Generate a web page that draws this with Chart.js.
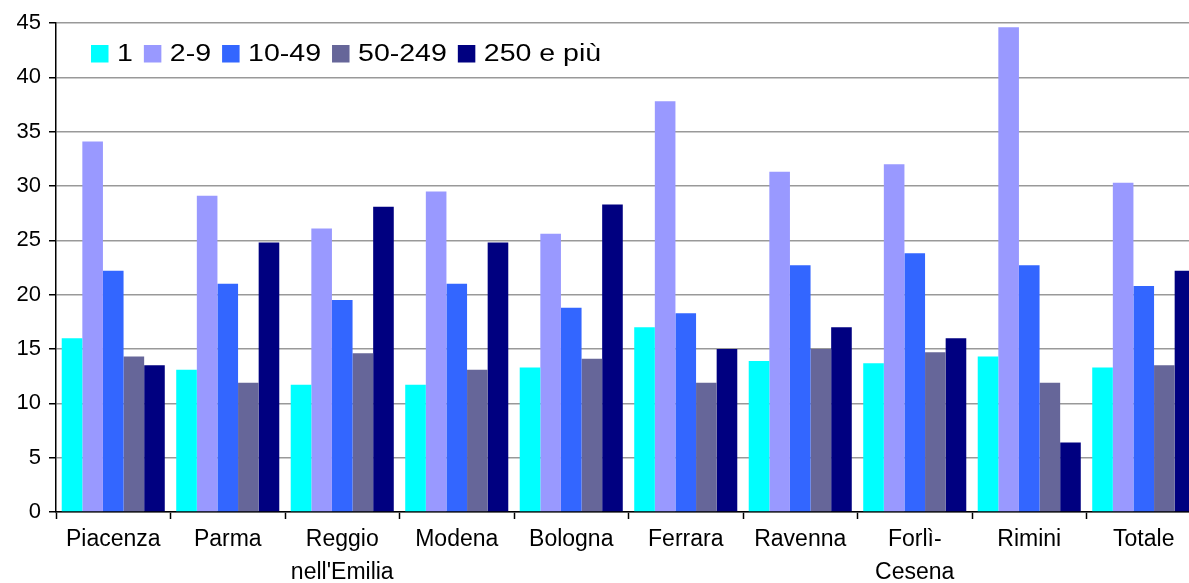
<!DOCTYPE html>
<html>
<head>
<meta charset="utf-8">
<script src="https://cdn.jsdelivr.net/npm/chart.js@4"></script>
<style>
    body { margin: 0; overflow: hidden; background: #fff; }
    #wrap { width: 1215px; height: 600px; }
</style>
</head>
<body>
<div id="wrap"><canvas id="chart" width="1215" height="600"></canvas></div>
<script>
const province = ['Piacenza', 'Parma', ['Reggio', "nell'Emilia"], 'Modena', 'Bologna', 'Ferrara', 'Ravenna', ['Forlì-', 'Cesena'], 'Rimini', 'Totale'];
const classi = ['1', '2-9', '10-49', '50-249', '250 e più'];
const colori = ['#00FFFF', '#9999FF', '#3366FF', '#666699', '#000080'];

const addetti1 = [16.0, 13.1, 11.7, 11.7, 13.3, 17.0, 13.9, 13.7, 14.3, 13.3];
const addetti2_9 = [34.1, 29.1, 26.1, 29.5, 25.6, 37.8, 31.3, 32.0, 44.6, 30.3];
const addetti10_49 = [22.2, 21.0, 19.5, 21.0, 18.8, 18.3, 22.7, 23.8, 22.7, 20.8];
const addetti50_249 = [14.3, 11.9, 14.6, 13.1, 14.1, 11.9, 15.0, 14.7, 11.9, 13.5];
const addetti250 = [13.5, 24.8, 28.1, 24.8, 28.3, 15.0, 17.0, 16.0, 6.4, 22.2];

const yTicks = [0, 5, 10, 15, 20, 25, 30, 35, 40, 45];

const FONT = '"Liberation Sans", Arial, sans-serif';

// legenda disegnata dentro l'area del grafico, in alto a sinistra (testo un po' allargato come nell'originale)
const legendaInterna = {
    id: 'legendaInterna',
    afterDraw(chart) {
        const ctx = chart.ctx;
        const stretch = 1.24;
        ctx.save();
        ctx.font = '23px ' + FONT;
        ctx.textBaseline = 'middle';
        let x = 91;
        const y = 45;
        chart.data.datasets.forEach(ds => {
            ctx.fillStyle = ds.backgroundColor;
            ctx.fillRect(x, y, 17.5, 17.5);
            ctx.fillStyle = '#000';
            ctx.save();
            ctx.translate(x + 26, y + 9.5);
            ctx.scale(stretch, 1);
            ctx.fillText(ds.label, 0, 0);
            ctx.restore();
            x += 26 + ctx.measureText(ds.label).width * stretch + 11;
        });
        ctx.restore();
    }
};

const serie = [addetti1, addetti2_9, addetti10_49, addetti50_249, addetti250];

new Chart(document.getElementById('chart').getContext('2d'), {
    type: 'bar',
    data: {
        labels: province,
        datasets: serie.map((valori, i) => ({
            label: classi[i],
            data: valori,
            backgroundColor: colori[i],
            borderWidth: 0,
            categoryPercentage: 0.9,
            barPercentage: 1.0
        }))
    },
    options: {
        responsive: false,
        animation: false,
        layout: { padding: { top: 23, right: 14, left: 0, bottom: 0 } },
        plugins: {
            legend: { display: false },
            tooltip: { enabled: false }
        },
        scales: {
            x: {
                offset: true,
                afterFit: (scale) => { scale.height = 88; },
                grid: {
                    drawOnChartArea: false,
                    drawTicks: true,
                    tickLength: 7,
                    tickColor: '#000',
                    tickWidth: 1.5
                },
                border: { color: '#000', width: 1.5 },
                ticks: {
                    color: '#000',
                    font: { family: FONT, size: 23, lineHeight: 1.45 },
                    padding: 4,
                    maxRotation: 0,
                    autoSkip: false
                }
            },
            y: {
                min: 0,
                max: 45,
                afterFit: (scale) => { scale.width = 56; },
                afterBuildTicks: (scale) => { scale.ticks = yTicks.map(v => ({ value: v })); },
                grid: {
                    color: '#999',
                    lineWidth: 1.5,
                    tickLength: 7,
                    tickColor: '#000',
                    tickWidth: 1.5
                },
                border: { color: '#000', width: 1.5 },
                ticks: {
                    color: '#000',
                    font: { family: FONT, size: 22 },
                    padding: 8
                }
            }
        }
    },
    plugins: [legendaInterna]
});
</script>
</body>
</html>
